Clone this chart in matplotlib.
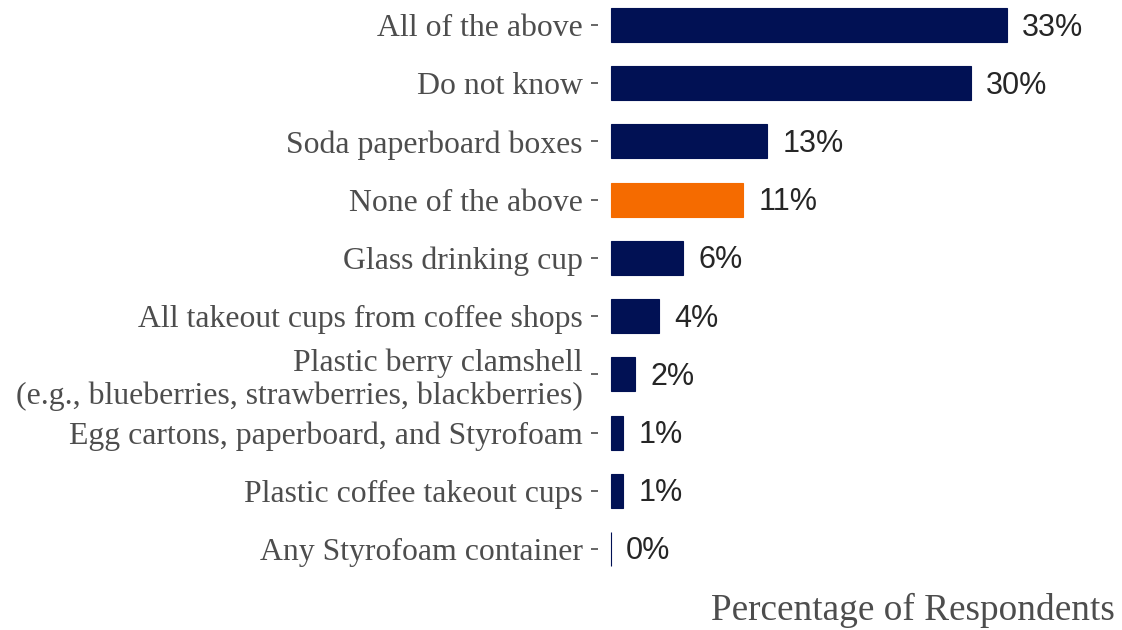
import matplotlib
matplotlib.use("Agg")
import matplotlib.pyplot as plt

# survey answers, listed bottom to top
labels = [
    "Any Styrofoam container",
    "Plastic coffee takeout cups",
    "Egg cartons, paperboard, and Styrofoam",
    "Plastic berry clamshell\n(e.g., blueberries, strawberries, blackberries)",
    "All takeout cups from coffee shops",
    "Glass drinking cup",
    "None of the above",
    "Soda paperboard boxes",
    "Do not know",
    "All of the above",
]
pct = [0, 1, 1, 2, 4, 6, 11, 13, 30, 33]
highlight = "None of the above"

navy = "#011154"
orange = "#F56B00"
colors = [orange if lab == highlight else navy for lab in labels]

fig = plt.figure(figsize=(11.22, 6.3), dpi=100)
ax = fig.add_axes([598 / 1122, 56 / 630, 517 / 1122, 574 / 630])

ypos = list(range(len(labels)))
ax.barh(ypos, pct, height=0.584, color=colors, edgecolor=colors, linewidth=0.8)

for y, v in zip(ypos, pct):
    ax.annotate(f"{v}%", (v, y), xytext=(11, -1.8), textcoords="offset points",
                ha="left", va="center", fontsize=22, color="#262626",
                family="Liberation Sans")

ax.set_xlim(-1.08, 42)
ax.set_ylim(-0.43, 9.43)
ax.set_yticks(ypos)
ax.set_yticklabels(labels, family="Liberation Serif", fontsize=22.9, color="#4D4D4D")
for t in ax.get_yticklabels():
    t.set_linespacing(1.15)
ax.tick_params(axis="y", length=5, width=1.2, color="#4D4D4D", pad=5.8)
ax.set_xticks([])
for s in ax.spines.values():
    s.set_visible(False)

fig.text(1115 / 1122, 20 / 630, "Percentage of Respondents", ha="right", va="center",
         family="Liberation Serif", fontsize=26.8, color="#4D4D4D")

fig.savefig("out.png", dpi=100)
